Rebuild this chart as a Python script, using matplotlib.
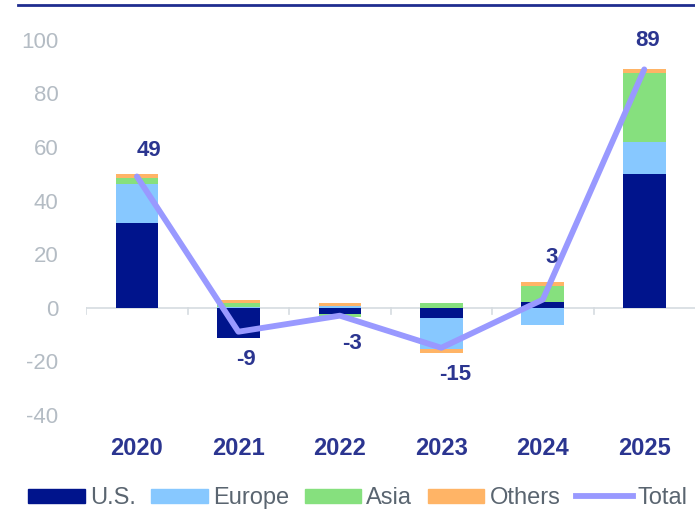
import matplotlib
matplotlib.use('Agg')
import matplotlib.pyplot as plt
import numpy as np
from matplotlib.patches import Patch
from matplotlib.lines import Line2D

plt.rcParams['font.family'] = ['Liberation Sans', 'DejaVu Sans']
plt.rcParams['axes.unicode_minus'] = False

years = ['2020', '2021', '2022', '2023', '2024', '2025']
us = [31.5, -11.5, -2.5, -3.8, 2.0, 50.0]
europe = [14.5, 0.4, 0.5, -11.8, -6.5, 12.0]
asia = [2.5, 1.3, -1.0, 1.8, 6.0, 25.5]
others = [1.5, 1.2, 1.2, -1.2, 1.5, 1.5]
total = [49, -9, -3, -15, 3, 89]

series = [('U.S.', us, '#00148C'), ('Europe', europe, '#87C8FF'),
          ('Asia', asia, '#86E07E'), ('Others', others, '#FFB466')]
line_color = '#9999FF'
label_color = '#2B3590'
tick_gray = '#B4BCC4'

fig = plt.figure(figsize=(6.95, 5.12), dpi=100)
ax = fig.add_axes([0.124, 0.19, 0.876, 0.732])

x = np.arange(len(years))
pos_base = np.zeros(len(years))
neg_base = np.zeros(len(years))
for name, vals, col in series:
    v = np.array(vals, dtype=float)
    bottom = np.where(v >= 0, pos_base, neg_base)
    ax.bar(x, v, 0.42, bottom=bottom, color=col, zorder=2)
    pos_base = pos_base + np.where(v >= 0, v, 0)
    neg_base = neg_base + np.where(v < 0, v, 0)

ax.plot(x, total, color=line_color, lw=4.2, zorder=3, solid_capstyle='round')

# data labels for the total line
offsets = [(12, 26), (8, -28), (12, -28), (14, -27), (9, 42), (3, 29)]
for xi, t, (dx, dy) in zip(x, total, offsets):
    ax.annotate(str(t), (xi, t), xytext=(dx, dy), textcoords='offset pixels',
                ha='center', va='center', fontsize=16, fontweight='bold',
                color=label_color, zorder=4)

# zero axis line with ticks between categories
ax.axhline(0, color='#D5DBE0', lw=1.2, zorder=1)
for b in np.arange(-0.5, len(years) - 0.5, 1.0):
    ax.plot([b, b], [0, -2.2], color='#D5DBE0', lw=1.2, zorder=1)

ax.set_xlim(-0.5, 5.5)
ax.set_ylim(-40, 100)
ax.set_yticks(np.arange(-40, 101, 20))
ax.set_xticks(x)
ax.set_xticklabels(years)
for s in ax.spines.values():
    s.set_visible(False)
ax.tick_params(axis='y', length=0, pad=20, labelsize=16, labelcolor=tick_gray)
ax.tick_params(axis='x', length=0, pad=16, labelsize=17, labelcolor=label_color)
for t in ax.get_xticklabels():
    t.set_fontweight('bold')

# top rule
fig.add_artist(Line2D([0.026, 1.0], [0.99, 0.99], color='#1F2D8F', lw=2))

handles = [Patch(color=c, label=n) for n, _, c in series]
handles.append(Line2D([], [], color=line_color, lw=4.2, label='Total'))
fig.legend(handles=handles, loc='center', bbox_to_anchor=(0.515, 0.027), ncol=5,
           frameon=False, fontsize=17, handlelength=2.4, handleheight=0.55,
           handletextpad=0.22, columnspacing=0.65, labelcolor='#5A6570')

fig.savefig('out.png', dpi=100)
